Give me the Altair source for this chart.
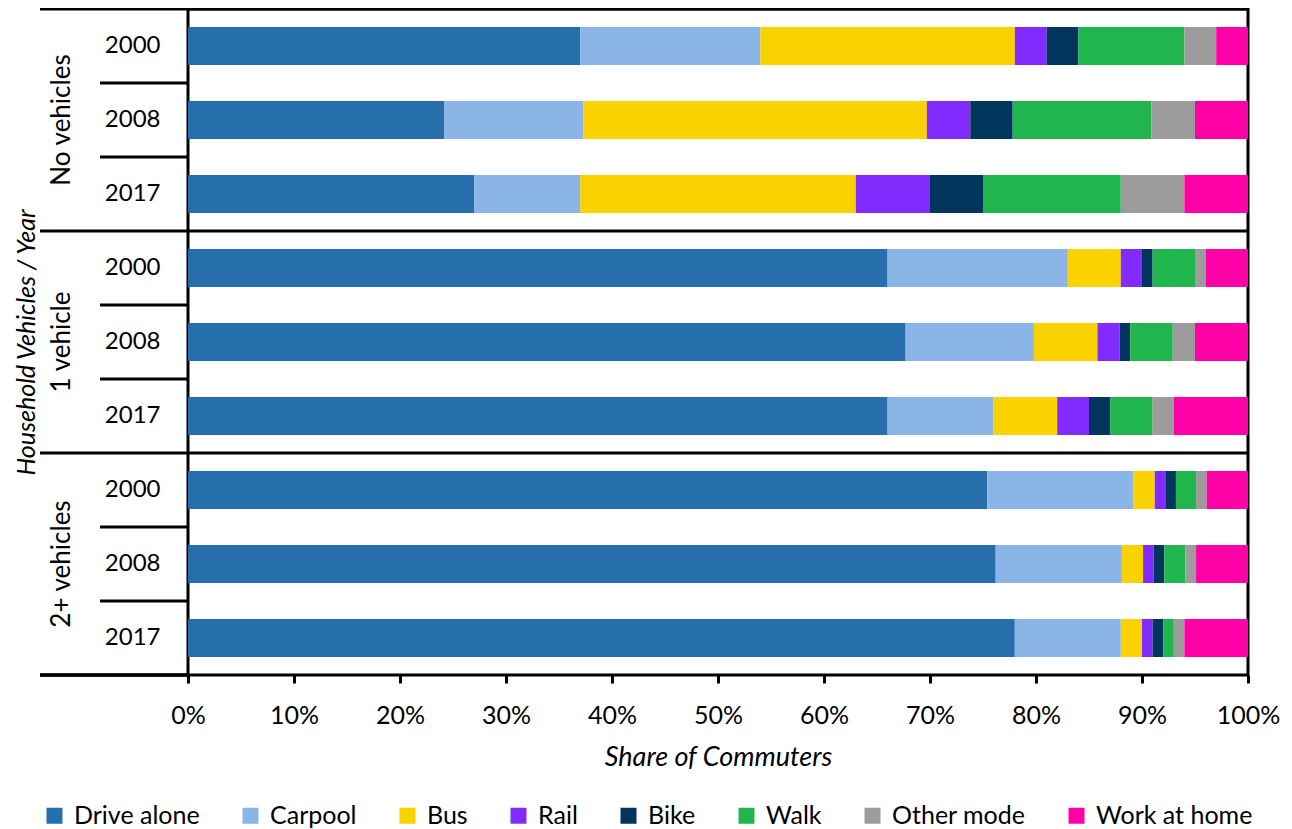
import altair as alt
import pandas as pd

modes = ["Drive alone", "Carpool", "Bus", "Rail", "Bike", "Walk", "Other mode", "Work at home"]
colors = ["#266EAC", "#8BB5E7", "#FAD200", "#822BFF", "#00365E", "#20B54D", "#9C9C9C", "#FF00A6"]
groups = ["No vehicles", "1 vehicle", "2+ vehicles"]
years = ["2000", "2008", "2017"]

no_veh_2000 = [37.0, 17.0, 24.0, 3.0, 3.0, 10.0, 3.0, 3.0]
no_veh_2008 = [24.2, 13.1, 32.4, 4.1, 4.0, 13.1, 4.1, 5.0]
no_veh_2017 = [27.0, 10.0, 26.0, 7.0, 5.0, 13.0, 6.0, 6.0]
one_veh_2000 = [66.0, 17.0, 5.0, 2.0, 1.0, 4.0, 1.0, 4.0]
one_veh_2008 = [67.7, 12.1, 6.0, 2.1, 1.0, 4.0, 2.1, 5.0]
one_veh_2017 = [66.0, 10.0, 6.0, 3.0, 2.0, 4.0, 2.0, 7.0]
two_veh_2000 = [75.4, 13.8, 2.0, 1.0, 1.0, 1.9, 1.0, 3.9]
two_veh_2008 = [76.2, 11.9, 2.0, 1.0, 1.0, 2.0, 1.0, 4.9]
two_veh_2017 = [78.0, 10.0, 2.0, 1.0, 1.0, 1.0, 1.0, 6.0]

series = {
    ("No vehicles", "2000"): no_veh_2000,
    ("No vehicles", "2008"): no_veh_2008,
    ("No vehicles", "2017"): no_veh_2017,
    ("1 vehicle", "2000"): one_veh_2000,
    ("1 vehicle", "2008"): one_veh_2008,
    ("1 vehicle", "2017"): one_veh_2017,
    ("2+ vehicles", "2000"): two_veh_2000,
    ("2+ vehicles", "2008"): two_veh_2008,
    ("2+ vehicles", "2017"): two_veh_2017,
}

rows = [f"{g}|{y}" for g in groups for y in years]

recs = []
for (g, y), vals in series.items():
    for i, (m, v) in enumerate(zip(modes, vals)):
        recs.append({"group": g, "year": y, "row": f"{g}|{y}", "mode": m, "value": v, "order": i})
df = pd.DataFrame(recs)

grp_df = pd.DataFrame({"group": groups, "row": [f"{g}|2008" for g in groups]})
short_sep = pd.DataFrame({"row": [f"{g}|{y}" for g in groups for y in ["2008", "2017"]]})
long_sep = pd.DataFrame({"row": [f"{g}|2000" for g in groups]})

FONT = "Lato"
yscale = alt.Scale(domain=rows, paddingInner=0.486, paddingOuter=0.243)
yaxis = alt.Axis(labelExpr="split(datum.value, '|')[1]", title="Household Vehicles / Year",
                 titleFontStyle="italic", titleFontWeight="normal", titleFontSize=25,
                 titleX=-162, titleY=333, titleBaseline="middle",
                 labelFontSize=24, labelPadding=28, ticks=False, domain=False,
                 labelColor="black", titleColor="black", grid=False)
Y = alt.Y("row:N", sort=rows, scale=yscale, axis=yaxis, title="Household Vehicles / Year")

bars = alt.Chart(df).mark_bar().encode(
    x=alt.X("value:Q", stack="zero",
            scale=alt.Scale(domain=[0, 100], nice=False),
            axis=alt.Axis(values=list(range(0, 101, 10)), labelExpr="datum.value + '%'",
                          title="Share of Commuters", titleFontStyle="italic",
                          titleFontWeight="normal", titleFontSize=27, titlePadding=16,
                          labelFontSize=25, labelPadding=20, tickSize=8, tickWidth=3,
                          labelFlush=False, labelOverlap=False,
                          tickColor="black", domain=False, grid=False, labelColor="black",
                          titleColor="black")),
    y=Y,
    color=alt.Color("mode:N", scale=alt.Scale(domain=modes, range=colors),
                    legend=alt.Legend(orient="none", legendX=-146, legendY=794,
                                      direction="horizontal", title=None,
                                      symbolType="square", symbolSize=256,
                                      symbolStrokeWidth=0, labelFontSize=25,
                                      labelOffset=7, columnPadding=38, labelColor="black")),
    order=alt.Order("order:Q"),
)

grp_text = alt.Chart(grp_df).mark_text(angle=270, fontSize=26, align="center",
                                        baseline="middle", color="black").encode(
    y=Y,
    x=alt.value(-126),
    text="group:N",
)

short_rules = alt.Chart(short_sep).mark_rule(color="black", strokeWidth=3, yOffset=-37).encode(
    y=Y,
    x=alt.value(-88),
    x2=alt.value(0),
)

long_rules = alt.Chart(long_sep).mark_rule(color="black", strokeWidth=3, yOffset=-37).encode(
    y=Y,
    x=alt.value(-148),
    x2=alt.value(1060),
)

bottom_rule = alt.Chart(long_sep).mark_rule(color="black", strokeWidth=3).encode(
    y=alt.value(666),
    x=alt.value(-148),
    x2=alt.value(0),
)

chart = alt.layer(bars, grp_text, short_rules, long_rules, bottom_rule).properties(
    width=1060, height=666,
    padding={"left": 180, "top": 1, "right": 36, "bottom": 156},
    autosize=alt.AutoSizeParams(type="none"),
).configure(font=FONT).configure_view(stroke="black", strokeWidth=3)

chart.save("out.html", embed_options={"renderer": "svg", "actions": False})
